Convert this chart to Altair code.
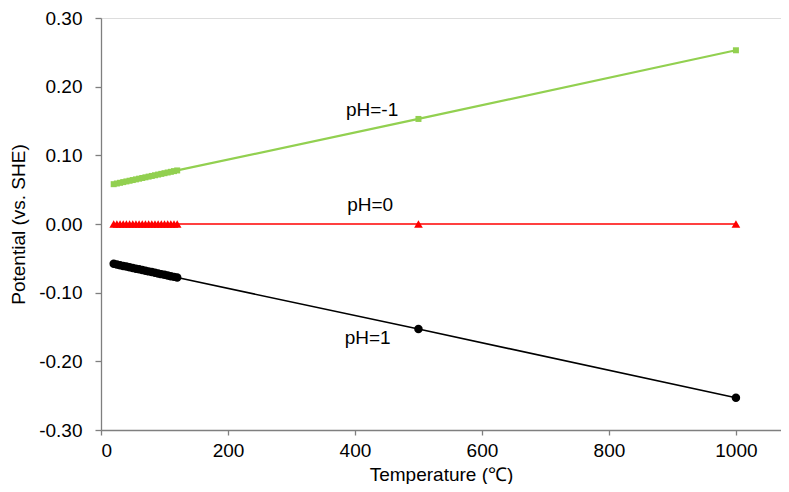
import altair as alt
import pandas as pd

temps = [20, 25, 30, 35, 40, 45, 50, 55, 60, 65, 70, 75, 80, 85, 90, 95, 100,
         105, 110, 115, 120, 500, 1000]
pot_ph_m1 = [0.058, 0.059, 0.060, 0.061, 0.062, 0.063, 0.064, 0.065, 0.066,
             0.067, 0.068, 0.069, 0.070, 0.071, 0.072, 0.073, 0.074, 0.075,
             0.076, 0.077, 0.078, 0.153, 0.253]
pot_ph_0 = [0.0, 0.0, 0.0, 0.0, 0.0, 0.0, 0.0, 0.0, 0.0, 0.0, 0.0, 0.0,
            0.0, 0.0, 0.0, 0.0, 0.0, 0.0, 0.0, 0.0, 0.0, 0.0, 0.0]
pot_ph_1 = [-0.058, -0.059, -0.060, -0.061, -0.062, -0.063, -0.064, -0.065,
            -0.066, -0.067, -0.068, -0.069, -0.070, -0.071, -0.072, -0.073,
            -0.074, -0.075, -0.076, -0.077, -0.078, -0.153, -0.253]

series_names = ["pH=-1", "pH=0", "pH=1"]
series_colors = ["#92D050", "#FF0000", "#000000"]
series_shapes = ["square", "triangle-up", "circle"]
series_sizes = [36, 75, 72]
series_widths = [2.2, 1.5, 1.6]

label_texts = ["pH=-1", "pH=0", "pH=1"]
label_x = [427, 424, 420]
label_y = [0.1655, 0.0282, -0.1655]

x_ticks = [0, 200, 400, 600, 800, 1000]
y_ticks = [-0.3, -0.2, -0.1, 0.0, 0.1, 0.2, 0.3]

frames = []
for name, vals in zip(series_names, [pot_ph_m1, pot_ph_0, pot_ph_1]):
    frames.append(pd.DataFrame({"series": name, "T": temps, "E": vals}))
lab = pd.DataFrame({"text": label_texts, "T": label_x, "E": label_y})

FONT = "Liberation Sans"
FS = 19
AX = "#7f7f7f"
xs = alt.Scale(domain=[0, 1071], nice=False, zero=False)
ys = alt.Scale(domain=[-0.3, 0.3], nice=False)

xaxis = alt.Axis(values=x_ticks, grid=False, format="d",
                 title="Temperature (℃)", domainColor=AX, domainWidth=1.3,
                 tickColor=AX, tickWidth=1.3, tickSize=5, labelFont=FONT,
                 labelFontSize=FS, labelColor="#000000", titleFont=FONT,
                 titleFontSize=FS, titleFontWeight="normal", titleColor="#000000",
                 labelPadding=6, titlePadding=5)
yaxis = alt.Axis(values=y_ticks, grid=False,
                 title="Potential (vs. SHE)", domainColor=AX, domainWidth=1.3,
                 tickColor=AX, tickWidth=1.3, tickSize=6, labelFont=FONT,
                 labelFontSize=FS, labelColor="#000000", titleFont=FONT,
                 titleFontSize=FS, titleFontWeight="normal", titleColor="#000000",
                 labelPadding=13, titlePadding=10,
                 labelExpr="datum.value < -0.0001 ? '-' + format(-datum.value, '.2f') : format(abs(datum.value), '.2f')")

layers = []
for i, (fr, col, shp, sz, sw) in enumerate(zip(frames, series_colors, series_shapes,
                                               series_sizes, series_widths)):
    b = alt.Chart(fr)
    if i == 0:
        xe = alt.X("T:Q", scale=xs, axis=xaxis)
        ye = alt.Y("E:Q", scale=ys, axis=yaxis)
    else:
        xe = alt.X("T:Q", scale=xs)
        ye = alt.Y("E:Q", scale=ys)
    layers.append(b.mark_line(color=col, strokeWidth=sw, clip=True).encode(x=xe, y=ye))
    layers.append(b.mark_point(filled=True, opacity=1, color=col, shape=shp, size=sz).encode(
        x=alt.X("T:Q", scale=xs), y=alt.Y("E:Q", scale=ys)))

texts = alt.Chart(lab).mark_text(font=FONT, fontSize=FS, color="#000000", align="center", baseline="middle").encode(
    x=alt.X("T:Q", scale=xs),
    y=alt.Y("E:Q", scale=ys),
    text="text:N",
)
layers.append(texts)

chart = alt.layer(*layers).properties(
    width=680, height=412,
    autosize=alt.AutoSizeParams(type="none"),
    padding={"left": 93, "top": 10, "right": 0, "bottom": 54},
).configure_view(stroke=None).configure(background="#ffffff")

chart.save("out.html", embed_options={"renderer": "svg", "actions": False})
